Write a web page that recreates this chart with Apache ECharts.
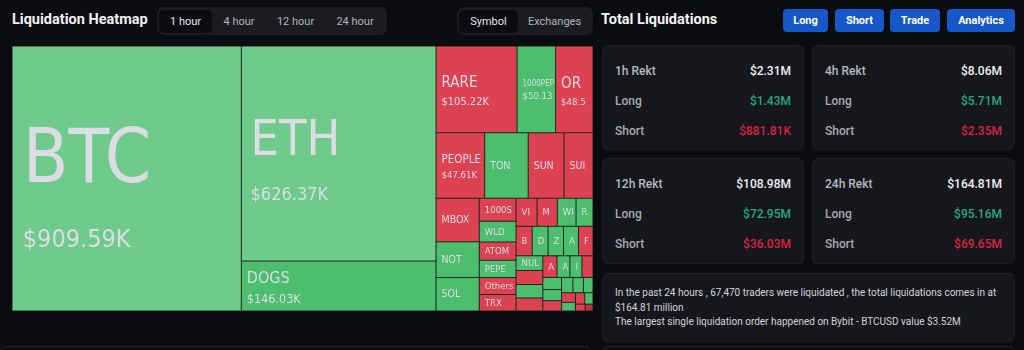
<!DOCTYPE html>
<html>
<head>
<meta charset="utf-8">
<script src="https://cdn.jsdelivr.net/npm/echarts/dist/echarts.min.js"></script>
<style>
  html, body { margin:0; padding:0; }
  body { width:1024px; height:350px; overflow:hidden; background:#0b0c10; font-family: Roboto, 'Noto Sans', sans-serif; position:relative; color:#e8e8ec; }
  .abs { position:absolute; }
  .title { font-weight:700; font-size:14.5px; color:#f2f2f4; line-height:20px; }
  .tabs { background:#1b1c21; border-radius:7px; height:28px; display:flex; align-items:center; padding-left:2px; box-sizing:border-box; }
  .tab { height:23px; line-height:23px; text-align:center; font-size:11px; color:#b4b4bc; border-radius:5px; }
  .tab.on { background:#0b0c10; color:#e4e4e8; }
  .btn { height:23px; line-height:23px; text-align:center; background:#1658c8; color:#fff; font-size:11px; font-weight:700; border-radius:4px; top:9px; }
  .card { background:#16171c; border:1px solid #1f2026; border-radius:6px; box-sizing:border-box; }
  .row { position:absolute; left:12px; right:12px; height:16px; line-height:16px; font-size:12px; font-weight:500; }
  .row .l { position:absolute; left:0; color:#a9a9b1; }
  .row .r { position:absolute; right:0; }
  .info { font-size:10px; line-height:14.7px; color:#d4d4da; padding:12px 12px 0 12px; }
  #chart { position:absolute; left:12px; top:46px; width:581px; height:265px; }
</style>
</head>
<body>
<div class="abs title" style="left:12px;top:10px;">Liquidation Heatmap</div>
<div class="abs tabs" id="timeTabs" style="left:157px;top:7px;width:230px;"></div>
<div class="abs tabs" id="viewTabs" style="left:457px;top:7px;width:136px;"></div>
<div class="abs title" style="left:601px;top:10px;">Total Liquidations</div>
<div id="btns"></div>
<div id="cards"></div>
<div class="abs card info" id="info" style="left:602px;top:273px;width:413px;height:69px;"></div>
<div class="abs card" style="left:0px;top:346px;width:591px;height:20px;background:#0d0e12;"></div>
<div class="abs card" style="left:602px;top:346px;width:413px;height:20px;background:#0d0e12;"></div>
<div id="chart"></div>
<script>
// ---- header data ----
const timeTabs = ['1 hour', '4 hour', '12 hour', '24 hour'];
const viewTabs = ['Symbol', 'Exchanges'];
const actionButtons = ['Long', 'Short', 'Trade', 'Analytics'];

// ---- summary cards ----
const rektPeriods = ['1h Rekt', '4h Rekt', '12h Rekt', '24h Rekt'];
const rektTotal = ['$2.31M', '$8.06M', '$108.98M', '$164.81M'];
const rektLong = ['$1.43M', '$5.71M', '$72.95M', '$95.16M'];
const rektShort = ['$881.81K', '$2.35M', '$36.03M', '$69.65M'];
const infoLines = [
  'In the past 24 hours , 67,470 traders were liquidated , the total liquidations comes in at',
  '$164.81 million',
  'The largest single liquidation order happened on Bybit - BTCUSD value $3.52M'
];

// ---- treemap data (values in $K, 1 hour) ----
const symbols = ['BTC','ETH','DOGS','RARE','1000PEPE','ORDI','PEOPLE','TON','SUN','SUI',
  'MBOX','NOT','SOL','1000SATS','WLD','ATOM','PEPE','Others','TRX',
  'VIDT','MEW','WIF','REZ','BNB','DIA','ZIL','APT','FTM',
  'NULS','LISTA','NEIRO','SATS','AEVO','ALT','IO','ARK',
  'ID','DOT','TAO','NEAR','1INCH','BB','AI','ENA','TIA','ARB','OP','JUP'];
const liqValues = [909.59,626.37,146.03,105.22,50.13,48.57,47.61,42.6,35.1,28.35,
  28.2,23.1,21.7,12.7,11.4,10.1,9.5,9.36,9.1,
  8.83,8.54,7.87,7.15,7.1,7.0,6.8,6.6,6.4,
  5.9,5.6,5.4,5.2,4.6,4.2,3.9,3.6,
  3.4,3.1,2.9,2.6,2.4,2.2,2.0,1.8,1.6,1.4,1.0,0.8];
const tones = ['lg','lg','g','r','g','r','r','g','r','r',
  'r','g','g','r','g','r','g','r','r',
  'r','r','g','g','r','g','g','g','r',
  'g','r','g','r','r','g','g','r',
  'g','g','r','g','g','g','r','g','r','g','r','dr'];
const toneColors = { lg:'#6ecb8c', g:'#4dbd6e', r:'#dc4252', dr:'#c33246' };

// ---- build header ----
const tabWidths = [53, 54, 59, 60];
document.getElementById('timeTabs').innerHTML = timeTabs.map((t,i)=>
  `<div class="tab${i===0?' on':''}" style="width:${tabWidths[i]}px">${t}</div>`).join('');
const viewWidths = [59, 73];
document.getElementById('viewTabs').innerHTML = viewTabs.map((t,i)=>
  `<div class="tab${i===0?' on':''}" style="width:${viewWidths[i]}px">${t}</div>`).join('');
const btnPos = [[783,45],[835,49],[890,50],[947,68]];
document.getElementById('btns').innerHTML = actionButtons.map((b,i)=>
  `<div class="abs btn" style="left:${btnPos[i][0]}px;width:${btnPos[i][1]}px">${b}</div>`).join('');

// ---- build cards ----
const cardPos = [[602,45,202,105],[812,45,203,105],[602,158,202,106],[812,158,203,106]];
document.getElementById('cards').innerHTML = rektPeriods.map((p,i)=>{
  const [x,y,w,h] = cardPos[i];
  return `<div class="abs card" style="left:${x}px;top:${y}px;width:${w}px;height:${h}px">
    <div class="row" style="top:17px"><span class="l" style="color:#b9b9c1">${p}</span><span class="r" style="color:#f0f0f2">${rektTotal[i]}</span></div>
    <div class="row" style="top:47px"><span class="l">Long</span><span class="r" style="color:#26a880">${rektLong[i]}</span></div>
    <div class="row" style="top:77px"><span class="l">Short</span><span class="r" style="color:#dc2244">${rektShort[i]}</span></div>
  </div>`;
}).join('');
document.getElementById('info').innerHTML = infoLines.map(l=>`<div>${l}</div>`).join('');

// ---- treemap ----
function nameSize(v, name) {
  if (v > 800) return 74;
  if (v > 500) return 50;
  if (v > 120) return 16;
  if (v > 60) return 15;
  if (v > 45) return name.length > 6 ? 8 : (name.length > 4 ? 11.5 : 15);
  if (v > 15) return 10.5;
  return 9.5;
}
function valueSize(v) {
  if (v > 800) return 25;
  if (v > 500) return 18;
  if (v > 120) return 12.5;
  if (v > 60) return 11;
  return 9.5;
}
const showValue = v => v >= 45;
const labelFont = "'Liberation Sans Narrow','DejaVu Sans Condensed',Roboto,sans-serif";
const labelColor = '#dcdce4';

function buildData(layouts) {
  return symbols.map((s,i)=>{
    const v = liqValues[i];
    const ns = nameSize(v, s), vs = valueSize(v);
    const nLH = Math.round(ns * (showValue(v) ? 1.65 : 1.3));
    const vLH = Math.round(vs * 1.3);
    const contentH = nLH + (showValue(v) ? vLH : 0);
    const lay = layouts && layouts[s];
    const pt = lay ? Math.max(0, (lay.height - contentH) / 2) : 0;
    const pl = ns > 20 ? 5.5 + ns * 0.065 : 5;
    return {
      name: s, value: v,
      itemStyle: { color: toneColors[tones[i]] },
      label: {
        padding: [pt, 0, 0, pl],
        rich: {
          n: { fontSize: ns, lineHeight: nLH, color: labelColor, fontFamily: labelFont },
          v: { fontSize: vs, lineHeight: vLH, color: labelColor, fontFamily: labelFont }
        }
      }
    };
  });
}

const chart = echarts.init(document.getElementById('chart'), null, { renderer:'canvas' });
const option = {
  animation: false,
  backgroundColor: 'transparent',
  series: [{
    type: 'treemap',
    left: 0, top: 0, width: 581, height: 265,
    roam: false, nodeClick: false,
    breadcrumb: { show: false },
    sort: 'desc',
    itemStyle: { borderWidth: 0.5, borderColor: '#1a2a20', gapWidth: 0 },
    levels: [
      { itemStyle: { borderWidth: 0, gapWidth: 0 } },
      { itemStyle: { borderWidth: 0.5, borderColor: '#1b261f', gapWidth: 0 } }
    ],
    label: {
      show: true, position: 'insideTopLeft',
      overflow: 'truncate', ellipsis: '',
      formatter: p => showValue(p.value) ? `{n|${p.name}}\n{v|$${p.value.toFixed(2)}K}` : `{n|${p.name}}`
    },
    emphasis: { disabled: true },
    data: buildData(null)
  }]
};
chart.setOption(option);

// read the tile sizes from the library's own layout and centre the labels vertically
try {
  const data = chart.getModel().getSeriesByIndex(0).getData();
  const layouts = {};
  for (let i = 0; i < data.count(); i++) {
    const lay = data.getItemLayout(i);
    const nm = data.getName(i);
    if (lay && nm) layouts[nm] = { width: lay.width, height: lay.height };
  }
  chart.setOption({ series: [{ data: buildData(layouts) }] });
} catch (e) { /* keep top aligned labels */ }
</script>
</body>
</html>
